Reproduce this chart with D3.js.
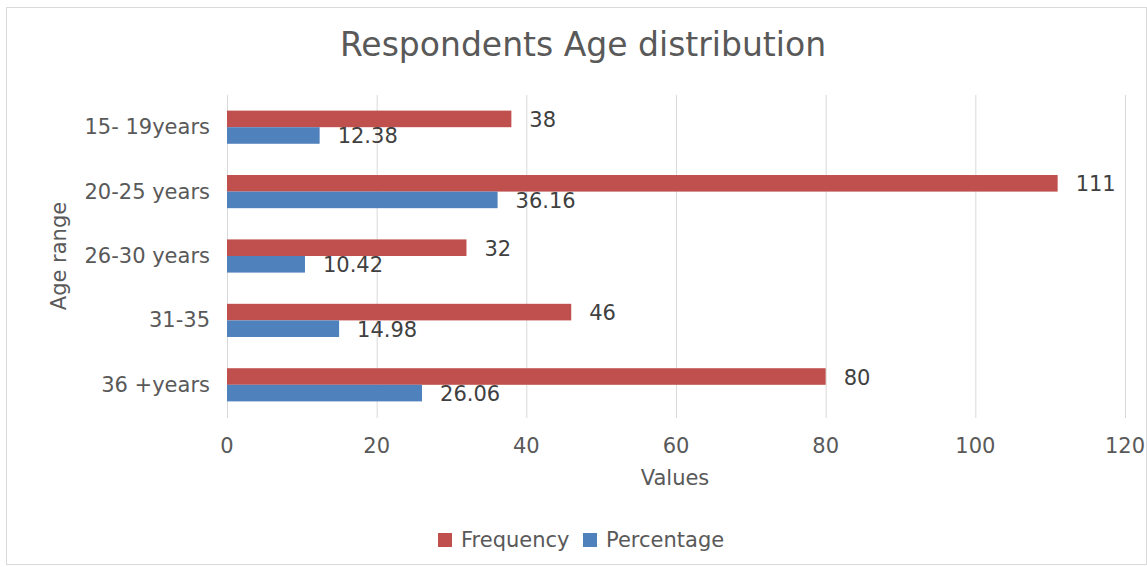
<!DOCTYPE html>
<html><head><meta charset="utf-8">
<script src="https://cdn.jsdelivr.net/npm/d3@7"></script>
<style>body{margin:0;background:#fff;font-family:"DejaVu Sans",sans-serif;}</style>
</head><body><svg id="c" width="1147" height="567"></svg>
<script>
const categories = ["15- 19years","20-25 years","26-30 years","31-35","36 +years"];
const frequency = [38,111,32,46,80];
const percentage = [12.38,36.16,10.42,14.98,26.06];
const percentageLabels = ["12.38","36.16","10.42","14.98","26.06"];
const seriesNames = ["Frequency","Percentage"];
const xTicks = [0,20,40,60,80,100,120];

(function(){
const colors = {Frequency:"#C0504D", Percentage:"#4F81BD"};
const textColor = "#595959";
const fs = 21;
const svg = d3.select("#c");
svg.append("rect").attr("x",6.5).attr("y",7.5).attr("width",1140).attr("height",557).attr("fill","#fff").attr("stroke","#d9d9d9");

const pLeft=227, pRight=1125, pTop=95, pBottom=417;
const x = d3.scaleLinear().domain([0,120]).range([pLeft,pRight]);
const y = d3.scaleBand().domain(categories).range([pTop,pBottom]).paddingInner(0.485).paddingOuter(0.2425);
const ys = d3.scaleBand().domain(seriesNames).range([0,y.bandwidth()]);

svg.append("g").selectAll("line").data(xTicks).join("line")
  .attr("x1",d=>x(d)+0.5).attr("x2",d=>x(d)+0.5).attr("y1",pTop).attr("y2",pBottom+1)
  .attr("stroke","#d9d9d9").attr("stroke-width",1);

const rows = categories.map((c,i)=>({cat:c, vals:[
  {s:"Frequency", v:frequency[i], lab:String(frequency[i])},
  {s:"Percentage", v:percentage[i], lab:percentageLabels[i]}]}));

const g = svg.append("g").selectAll("g").data(rows).join("g")
  .attr("transform",d=>`translate(0,${y(d.cat)})`);
g.selectAll("rect").data(d=>d.vals).join("rect")
  .attr("x",x(0)).attr("y",d=>ys(d.s)).attr("width",d=>x(d.v)-x(0)).attr("height",ys.bandwidth())
  .attr("fill",d=>colors[d.s]);
g.selectAll("text").data(d=>d.vals).join("text")
  .attr("x",d=>x(d.v)+18).attr("y",d=>ys(d.s)+ys.bandwidth()/2+1)
  .attr("dominant-baseline","central").attr("font-size",fs).attr("fill","#404040")
  .text(d=>d.lab);

svg.append("g").selectAll("text").data(xTicks).join("text")
  .attr("x",d=>x(d)).attr("y",453).attr("text-anchor","middle")
  .attr("font-size",fs).attr("fill",textColor).text(d=>d);

svg.append("g").selectAll("text").data(categories).join("text")
  .attr("x",210).attr("y",d=>y(d)+y.bandwidth()/2).attr("text-anchor","end")
  .attr("dominant-baseline","central").attr("font-size",fs).attr("fill",textColor).text(d=>d);

svg.append("text").attr("x",583).attr("y",56).attr("text-anchor","middle")
  .attr("font-size",33).attr("fill",textColor).text("Respondents Age distribution");
svg.append("text").attr("x",675).attr("y",485).attr("text-anchor","middle")
  .attr("font-size",fs).attr("fill",textColor).text("Values");
svg.append("text").attr("transform","translate(66,256) rotate(-90)").attr("text-anchor","middle")
  .attr("font-size",fs).attr("fill",textColor).text("Age range");

const lg = svg.append("g");
const legendItems = [{s:"Frequency",x:438},{s:"Percentage",x:583}];
lg.selectAll("rect").data(legendItems).join("rect")
  .attr("x",d=>d.x).attr("y",533).attr("width",14).attr("height",14).attr("fill",d=>colors[d.s]);
lg.selectAll("text").data(legendItems).join("text")
  .attr("x",d=>d.x+23).attr("y",540).attr("dominant-baseline","central")
  .attr("font-size",fs).attr("fill",textColor).text(d=>d.s);
})();
</script></body></html>
